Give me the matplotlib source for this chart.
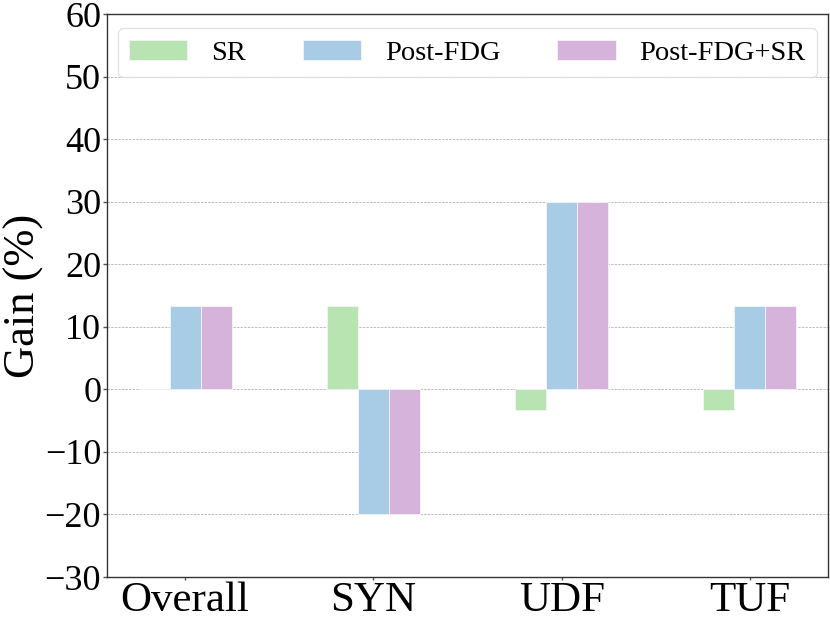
import matplotlib
matplotlib.use("Agg")
import matplotlib.pyplot as plt
import numpy as np

plt.rcParams['font.family'] = ['Liberation Serif', 'DejaVu Serif']
plt.rcParams['mathtext.fontset'] = 'stix'

categories = ["Overall", "SYN", "UDF", "TUF"]
series_names = ["SR", "Post-FDG", "Post-FDG+SR"]
sr_values = [0.0, 13.33, -3.33, -3.33]
post_fdg_values = [13.33, -20.0, 30.0, 13.33]
post_fdg_sr_values = [13.33, -20.0, 30.0, 13.33]
colors = ["#b7e4b0", "#a9cce6", "#d6b3da"]
yticks = [-30, -20, -10, 0, 10, 20, 30, 40, 50, 60]

fig = plt.figure(figsize=(8.3, 6.23), dpi=100)
ax = fig.add_axes([0.1289, 0.0738, 0.9976 - 0.1289, 0.9775 - 0.0738])

x = np.arange(len(categories))
w = 0.165
for i, (vals, name, c) in enumerate(zip([sr_values, post_fdg_values, post_fdg_sr_values], series_names, colors)):
    ax.bar(x + (i - 1) * w, vals, width=w, color=c, label=name, zorder=3,
           edgecolor='#f4f4f8', linewidth=0.6)

ax.set_xlim(-0.415, 3.415)
ax.set_ylim(-30, 60)
ax.set_yticks(yticks)
ax.set_xticks(x)
ax.set_xticklabels(categories, fontsize=31)
ax.tick_params(axis='y', labelsize=26, length=3, width=1, color='#555555', pad=1.2)
ax.tick_params(axis='x', length=2.5, width=1, color='#555555', pad=0.5)
ax.set_ylabel("Gain (%)", fontsize=32)
ax.yaxis.set_label_coords(-0.087, 0.5)
ax.yaxis.grid(True, linestyle=(0, (2.5, 1.2)), color='#bfbfbf', linewidth=0.7, zorder=0)
ax.set_axisbelow(True)
for s in ax.spines.values():
    s.set_color('#333333')
    s.set_linewidth(1.0)

leg = ax.legend(loc='upper center', ncol=3, fontsize=20.5, handlelength=2.04,
                handleheight=0.74, handletextpad=0.84, columnspacing=2.0,
                borderaxespad=0.5, framealpha=0.8, edgecolor='#dddddd')

fig.savefig("out.png", dpi=100)
